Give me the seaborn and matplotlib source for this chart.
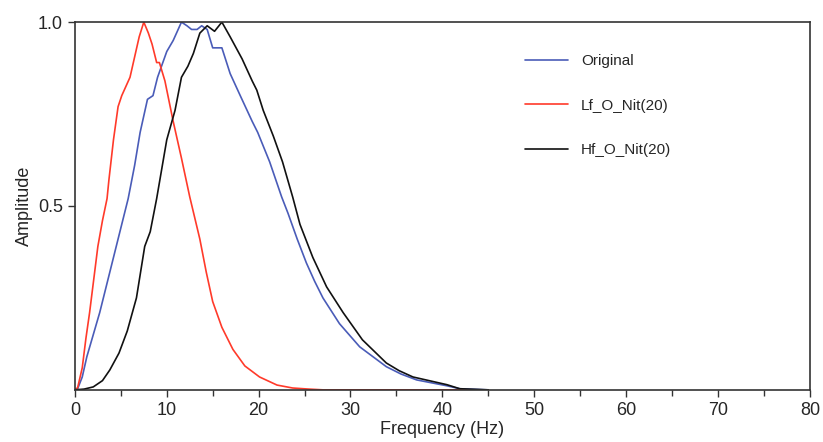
import pandas as pd
import seaborn as sns
import matplotlib.pyplot as plt
from matplotlib.ticker import MultipleLocator

orig_freq = [0.0, 0.3, 0.8, 1.3, 2.0, 2.7, 3.4, 4.1, 4.9, 5.8, 6.5, 7.1, 7.9, 8.5, 9.0, 10.0,
             10.7, 11.6, 12.2, 12.7, 13.3, 13.8, 14.4, 15.0, 15.6, 16.0, 16.9, 18.0, 19.3,
             19.9, 21.2, 22.5, 23.2, 24.2, 25.2, 26.1, 27.0, 28.8, 31.0, 33.9, 35.5, 37.2,
             40.5, 41.9, 45.0]
orig_amp = [0.0, 0.003, 0.035, 0.09, 0.15, 0.21, 0.28, 0.35, 0.43, 0.52, 0.61, 0.70, 0.79,
            0.80, 0.85, 0.92, 0.95, 1.0, 0.99, 0.98, 0.98, 0.99, 0.98, 0.93, 0.93, 0.93, 0.86,
            0.80, 0.73, 0.70, 0.62, 0.525, 0.48, 0.41, 0.345, 0.295, 0.25, 0.18, 0.117, 0.063,
            0.043, 0.027, 0.011, 0.003, 0.0]

lf_freq = [0.0, 0.3, 0.8, 1.2, 1.6, 2.1, 2.5, 3.0, 3.5, 3.7, 4.2, 4.7, 5.1, 6.0, 6.5, 7.0,
           7.5, 8.0, 8.4, 8.9, 9.2, 9.8, 10.7, 11.6, 12.5, 13.6, 14.3, 15.0, 16.0, 17.2,
           18.5, 20.1, 22.0, 23.7, 25.5, 27.0, 45.0]
lf_amp = [0.0, 0.006, 0.06, 0.14, 0.21, 0.31, 0.39, 0.46, 0.52, 0.57, 0.68, 0.77, 0.80,
          0.85, 0.905, 0.96, 1.0, 0.97, 0.94, 0.89, 0.89, 0.84, 0.73, 0.63, 0.525, 0.41,
          0.32, 0.24, 0.17, 0.11, 0.065, 0.035, 0.013, 0.005, 0.002, 0.0, 0.0]

hf_freq = [0.0, 1.0, 2.0, 3.0, 3.8, 4.8, 5.7, 6.7, 7.6, 8.2, 8.9, 10.0, 10.9, 11.6, 12.3,
           12.9, 13.6, 14.4, 15.2, 16.0, 16.9, 18.2, 19.3, 19.8, 20.5, 21.6, 22.6, 23.7,
           24.5, 25.9, 27.4, 29.2, 31.3, 33.9, 35.3, 36.8, 40.5, 41.9, 45.0]
hf_amp = [0.0, 0.002, 0.008, 0.025, 0.054, 0.10, 0.16, 0.25, 0.39, 0.43, 0.52, 0.68, 0.76,
          0.85, 0.88, 0.915, 0.97, 0.99, 0.975, 1.0, 0.96, 0.90, 0.84, 0.815, 0.76, 0.69,
          0.62, 0.525, 0.45, 0.36, 0.28, 0.21, 0.136, 0.073, 0.052, 0.035, 0.014, 0.003, 0.0]

series_names = ['Original', 'Lf_O_Nit(20)', 'Hf_O_Nit(20)']
series_colors = ['#4a5cb8', '#ff3a2a', '#111111']

df = pd.concat([
    pd.DataFrame({'freq': orig_freq, 'amp': orig_amp, 'series': series_names[0]}),
    pd.DataFrame({'freq': lf_freq, 'amp': lf_amp, 'series': series_names[1]}),
    pd.DataFrame({'freq': hf_freq, 'amp': hf_amp, 'series': series_names[2]}),
], ignore_index=True)

sns.set_style("ticks")
plt.rcParams['font.family'] = ['Liberation Sans', 'DejaVu Sans']

fig = plt.figure(figsize=(8.23, 4.42), dpi=100)
ax = fig.add_axes([0.091, 0.118, 0.893, 0.832])

sns.lineplot(data=df, x='freq', y='amp', hue='series', hue_order=series_names,
             palette=series_colors, linewidth=1.2, sort=False, estimator=None, ax=ax)

ax.set_xlim(0, 80)
ax.set_ylim(0, 1.0)
ax.xaxis.set_major_locator(MultipleLocator(10))
ax.xaxis.set_minor_locator(MultipleLocator(5))
ax.set_yticks([0.5, 1.0])
ax.set_yticklabels(['0.5', '1.0'])
ax.tick_params(axis='both', which='major', labelsize=13, length=5, width=1, color='#333333')
ax.tick_params(axis='x', which='minor', length=4, width=1, color='#333333')
for side in ['left', 'bottom', 'top', 'right']:
    ax.spines[side].set_visible(True)
    ax.spines[side].set_color('#333333')
    ax.spines[side].set_linewidth(1.2)

ax.set_xlabel('Frequency (Hz)', fontsize=13, labelpad=2)
ax.set_ylabel('Amplitude', fontsize=13, labelpad=4)

ax.legend(title=None, frameon=False, loc='upper left', bbox_to_anchor=(0.594, 0.95),
          fontsize=11, handlelength=2.8, handletextpad=0.85, labelspacing=2.0)

fig.savefig('out.png', dpi=100)
